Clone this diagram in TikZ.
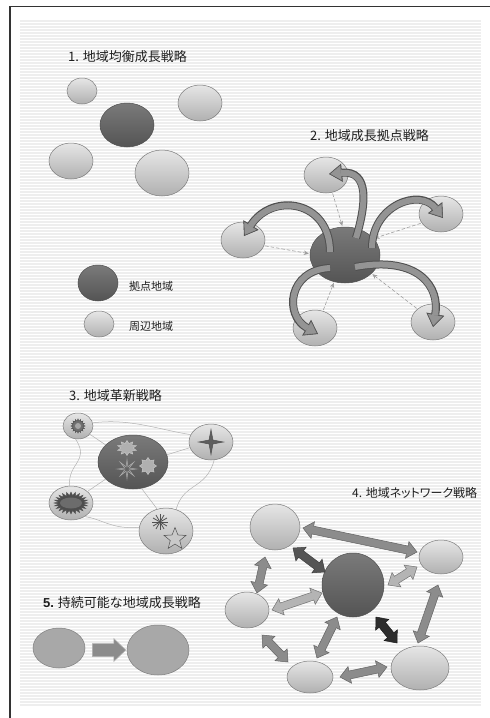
\documentclass[tikz,border=0pt]{standalone}
\usepackage{fontspec}
\setmainfont{Noto Sans CJK JP}
\newfontfamily\numbf{Liberation Sans}
\newfontfamily\paltfont[RawFeature=+palt]{Noto Sans CJK JP}
\usetikzlibrary{shapes.geometric,arrows.meta,calc}
\definecolor{ltT}{RGB}{230,230,230}
\definecolor{ltB}{RGB}{176,176,176}
\definecolor{ltD}{RGB}{125,125,125}
\definecolor{dkT}{RGB}{122,122,122}
\definecolor{dkB}{RGB}{84,84,84}
\definecolor{dkD}{RGB}{80,80,80}
\definecolor{flat}{RGB}{168,168,168}
\definecolor{flatD}{RGB}{128,128,128}
\definecolor{stripe}{RGB}{238,238,238}
\definecolor{txt}{RGB}{30,30,30}
\definecolor{cvD}{RGB}{80,80,80}
\definecolor{cvF}{RGB}{148,148,148}
\definecolor{arMf}{RGB}{140,140,140}
\definecolor{arMd}{RGB}{100,100,100}
\definecolor{arLf}{RGB}{180,180,180}
\definecolor{arLd}{RGB}{115,115,115}
\definecolor{arDf}{RGB}{85,85,85}
\definecolor{arDd}{RGB}{60,60,60}
\definecolor{arXf}{RGB}{45,45,45}
\definecolor{arXd}{RGB}{25,25,25}
\newcommand\arhl{10pt}
\newcommand\arhw{8.5pt}
\newcommand\arsw{4pt}
\newcommand\dblarr[3]{%
 \draw[#1] (#2) -- ($(#2)!\arhl!(#3)!\arhw!90:(#3)$) -- ($(#2)!\arhl!(#3)!\arsw!90:(#3)$)
  -- ($(#3)!\arhl!(#2)!\arsw!-90:(#2)$) -- ($(#3)!\arhl!(#2)!\arhw!-90:(#2)$) -- (#3)
  -- ($(#3)!\arhl!(#2)!\arhw!90:(#2)$) -- ($(#3)!\arhl!(#2)!\arsw!90:(#2)$)
  -- ($(#2)!\arhl!(#3)!\arsw!-90:(#3)$) -- ($(#2)!\arhl!(#3)!\arhw!-90:(#3)$) -- cycle;}
\newcommand\sglarr[3]{%
 \draw[#1] ($(#2)!\arsw!90:(#3)$) -- ($(#3)!\arhl!(#2)!\arsw!-90:(#2)$)
  -- ($(#3)!\arhl!(#2)!\arhw!-90:(#2)$) -- (#3) -- ($(#3)!\arhl!(#2)!\arhw!90:(#2)$)
  -- ($(#3)!\arhl!(#2)!\arsw!90:(#2)$) -- ($(#2)!\arsw!-90:(#3)$) -- cycle;}
\begin{document}
\begin{tikzpicture}[x=1pt,y=-1pt,
  e/.style 2 args={minimum width=#1pt, minimum height=#2pt},
  lt/.style={ellipse, inner sep=0pt, draw=ltD, line width=0.5pt, top color=ltT, bottom color=ltB},
  dk/.style={ellipse, inner sep=0pt, draw=dkD, line width=0.5pt, top color=dkT, bottom color=dkB},
  fl/.style={ellipse, inner sep=0pt, draw=flatD, line width=0.5pt, fill=flat},
  ttl/.style={inner sep=0pt, text=txt, font=\fontsize{13}{15}\selectfont},
  lab/.style={inner sep=0pt, text=txt, font=\fontsize{11}{13}\selectfont},
  dsh/.style={draw=gray!75, line width=0.6pt, dash pattern=on 3.5pt off 2pt, -{Stealth[length=5pt,width=4.5pt]}, shorten <=1pt, shorten >=1pt},
  cvo/.style={draw=cvD, line width=8pt, -{Triangle[length=13pt,width=18pt,line width=0.5pt]}},
  cvi/.style={draw=cvF, line width=6pt, shorten >=1.5pt, -{Triangle[length=10.5pt,width=14.5pt,line width=0.5pt]}},
  wv/.style={draw=gray!60, line width=0.5pt},
  arM/.style={fill=arMf, draw=arMd, line width=0.5pt},
  arL/.style={fill=arLf, draw=arLd, line width=0.5pt},
  arD/.style={fill=arDf, draw=arDd, line width=0.5pt},
  arX/.style={fill=arXf, draw=arXd, line width=0.5pt},
  deco/.style={inner sep=0pt, line width=0.5pt}
]
\useasboundingbox (0,0) rectangle (490,718);
\fill[white] (0,0) rectangle (490,718);
% striped background
\foreach \yy in {20,23,...,704} {\fill[stripe] (20,\yy) rectangle (481,\yy+1.6);}
% frame
\draw[line width=1.4pt, black!80] (10,718) -- (10,6.5) -- (490,6.5);

%% ---------- 1 ----------
\node[ttl, anchor=west] (t1) at (68,57) {1. 地域均衡成長戦略};
\node[lt, e={30}{26}] (a1) at (82,91) {};
\node[dk, e={54}{44}] (a2) at (127,125) {};
\node[lt, e={44}{36}] (a3) at (200,103) {};
\node[lt, e={44}{36}] (a4) at (71,161) {};
\node[lt, e={54}{46}] (a5) at (162,173) {};

%% ---------- 2 ----------
\node[ttl, anchor=west] (t2t) at (310,136) {2. 地域成長拠点戦略};
\node[dk, e={70}{56}] (c2) at (345,255) {};
\node[lt, e={44}{36}] (t2) at (326,175) {};
\node[lt, e={44}{36}] (r2) at (441,214) {};
\node[lt, e={44}{36}] (l2) at (243,240) {};
\node[lt, e={44}{36}] (bl2) at (315,328) {};
\node[lt, e={44}{36}] (br2) at (433,322) {};
\draw[dsh] (t2.-70) -- (c2.95);
\draw[dsh] (r2.-155) -- (c2.30);
\draw[dsh] (l2.-15) -- (c2.178);
\draw[dsh] (bl2.65) -- (c2.-112);
\draw[dsh] (br2.140) -- (c2.-35);
% curved thick arrows
\draw[cvo] ($(c2)+(11,-17)$) .. controls (366,205) and (370,170) .. ($(t2)+(3,-1)$);
\draw[cvi] ($(c2)+(11,-17)$) .. controls (366,205) and (370,170) .. ($(t2)+(3,-1)$);
\draw[cvo] ($(c2)+(27,-7)$) .. controls (372,205) and (420,188) .. ($(r2)+(2,4)$);
\draw[cvi] ($(c2)+(27,-7)$) .. controls (372,205) and (420,188) .. ($(r2)+(2,4)$);
\draw[cvo] ($(c2)+(-15,-3)$) .. controls (330,200) and (272,192) .. ($(l2)+(1,-4)$);
\draw[cvi] ($(c2)+(-15,-3)$) .. controls (330,200) and (272,192) .. ($(l2)+(1,-4)$);
\draw[cvo] ($(c2)+(-15,13)$) .. controls (288,270) and (284,315) .. ($(bl2)+(3,6)$);
\draw[cvi] ($(c2)+(-15,13)$) .. controls (288,270) and (284,315) .. ($(bl2)+(3,6)$);
\draw[cvo] ($(c2)+(10,12)$) .. controls (420,255) and (440,288) .. ($(br2)+(0,5)$);
\draw[cvi] ($(c2)+(10,12)$) .. controls (420,255) and (440,288) .. ($(br2)+(0,5)$);

%% ---------- legend ----------
\node[dk, e={40}{36}] (lg1) at (98,283) {};
\node[lt, e={30}{26}] (lg2) at (99,324) {};
\node[lab, anchor=west] (lgt1) at (129,286) {拠点地域};
\node[lab, anchor=west] (lgt2) at (129,326) {周辺地域};

%% ---------- 3 ----------
\node[ttl, anchor=west] (t3) at (69,396) {3. 地域革新戦略};
\node[lt, e={30}{26}] (tl3) at (78,426) {};
\node[dk, e={70}{54}] (c3) at (133,462) {};
\node[lt, e={44}{36}] (rt3) at (211,442) {};
\node[lt, e={44}{34}] (l3) at (71,503) {};
\node[lt, e={54}{46}] (b3) at (166,531) {};
\draw[wv] (tl3.12) .. controls (130,418) and (160,430) .. (rt3.160);
\draw[wv] (tl3.-35) -- (c3.148);
\draw[wv] (c3.12) -- (rt3.195);
\draw[wv] (tl3.-100) .. controls (90,462) and (68,462) .. (l3.95);
\draw[wv] (c3.212) -- (l3.35);
\draw[wv] (l3.-45) .. controls (100,518) and (112,530) .. (b3.172);
\draw[wv] (c3.-72) -- (b3.112);
\draw[wv] (rt3.-80) .. controls (206,490) and (184,482) .. (b3.65);
% decorations
\node[deco, star, star points=16, star point ratio=1.4, minimum size=14pt, fill=gray!60!black!80, draw=dkD] (s1) at (tl3) {};
\node[deco, circle, minimum size=6pt, fill=gray!70] (s1c) at (tl3) {};
\draw[fill=gray!45!black!90, draw=dkD, line width=0.4pt, shift={(l3.center)}] (0:17 and 11)
  \foreach \i in {1,...,47} { -- ({\i*7.5}:{17-4.5*mod(\i,2)} and {11-3.5*mod(\i,2)}) } -- cycle;
\node[deco, ellipse, minimum width=22pt, minimum height=11pt, fill=gray!85!black] (s2c) at (l3) {};
\node[deco, star, star points=10, star point ratio=1.6, minimum size=15pt, xscale=1.3, fill=gray!62, draw=gray!45] (s3) at (127,448) {};
\node[deco, star, star points=8, star point ratio=1.5, minimum size=17pt, fill=gray!62, draw=gray!45] (s4) at (148,466) {};
\node[deco, star, star points=8, star point ratio=4, minimum size=19pt, draw=gray!62] (s5) at (127,469) {};
\node[deco, star, star points=4, star point ratio=4.5, minimum size=25pt, fill=gray!60!black!90, draw=dkD, rotate=0] (s6) at (rt3) {};
\node[deco, inner sep=0pt, minimum size=16pt] (s7) at (160,522) {};
\foreach \ang in {0,30,...,150} {\draw[draw=dkD, line width=0.8pt] (s7.center) ++(\ang:8) -- ++(\ang+180:16);}
\node[deco, star, star points=5, star point ratio=2.3, minimum size=23pt, fill=gray!42, draw=dkD] (s8) at (175,539) {};

%% ---------- 4 ----------
\node[ttl, anchor=west, font=\paltfont\fontsize{12}{14}\selectfont] (t4) at (352,493) {4. 地域ネットワーク戦略};
\node[lt, e={50}{46}] (tl4) at (275,527) {};
\node[lt, e={44}{34}] (r4) at (441,557) {};
\node[dk, e={62}{64}] (c4) at (353,585) {};
\node[lt, e={44}{36}] (l4) at (247,610) {};
\node[lt, e={46}{32}] (b4) at (310,677) {};
\node[lt, e={58}{44}] (br4) at (420,668) {};
\coordinate (p1a) at (303,528); \coordinate (p1b) at (417,552);
\coordinate (p2a) at (293,548); \coordinate (p2b) at (325,572);
\coordinate (p3a) at (265,557); \coordinate (p3b) at (257,593);
\coordinate (p4a) at (417,567); \coordinate (p4b) at (388,585);
\coordinate (p5a) at (272,610); \coordinate (p5b) at (322,593);
\coordinate (p6a) at (438,585); \coordinate (p6b) at (418,643);
\coordinate (p7a) at (376,617); \coordinate (p7b) at (397,643);
\coordinate (p8a) at (337,617); \coordinate (p8b) at (317,658);
\coordinate (p9a) at (262,635); \coordinate (p9b) at (288,662);
\coordinate (p10a) at (340,677); \coordinate (p10b) at (387,667);
\dblarr{arM}{p1a}{p1b}
\dblarr{arD}{p2a}{p2b}
\dblarr{arM}{p3a}{p3b}
\dblarr{arL}{p4a}{p4b}
\dblarr{arL}{p5a}{p5b}
\dblarr{arM}{p6a}{p6b}
\dblarr{arX}{p7a}{p7b}
\dblarr{arM}{p8a}{p8b}
\dblarr{arM}{p9a}{p9b}
\dblarr{arM}{p10a}{p10b}

%% ---------- 5 ----------
\node[ttl, anchor=west] (t5) at (43,603) {{\numbf\bfseries 5.} 持続可能な地域成長戦略};
\node[fl, e={52}{40}] (f1) at (59,648) {};
\node[fl, e={62}{50}] (f2) at (158,650) {};
\coordinate (q1) at ($(f1.east)+(7,2)$);
\coordinate (q2) at ($(f2.west)+(-1,0)$);
\begingroup
\renewcommand\arhl{12pt}\renewcommand\arhw{11.5pt}\renewcommand\arsw{6.5pt}
\sglarr{fill=arMf, draw=gray!60, line width=0.5pt}{q1}{q2}
\endgroup
\end{tikzpicture}
\end{document}
